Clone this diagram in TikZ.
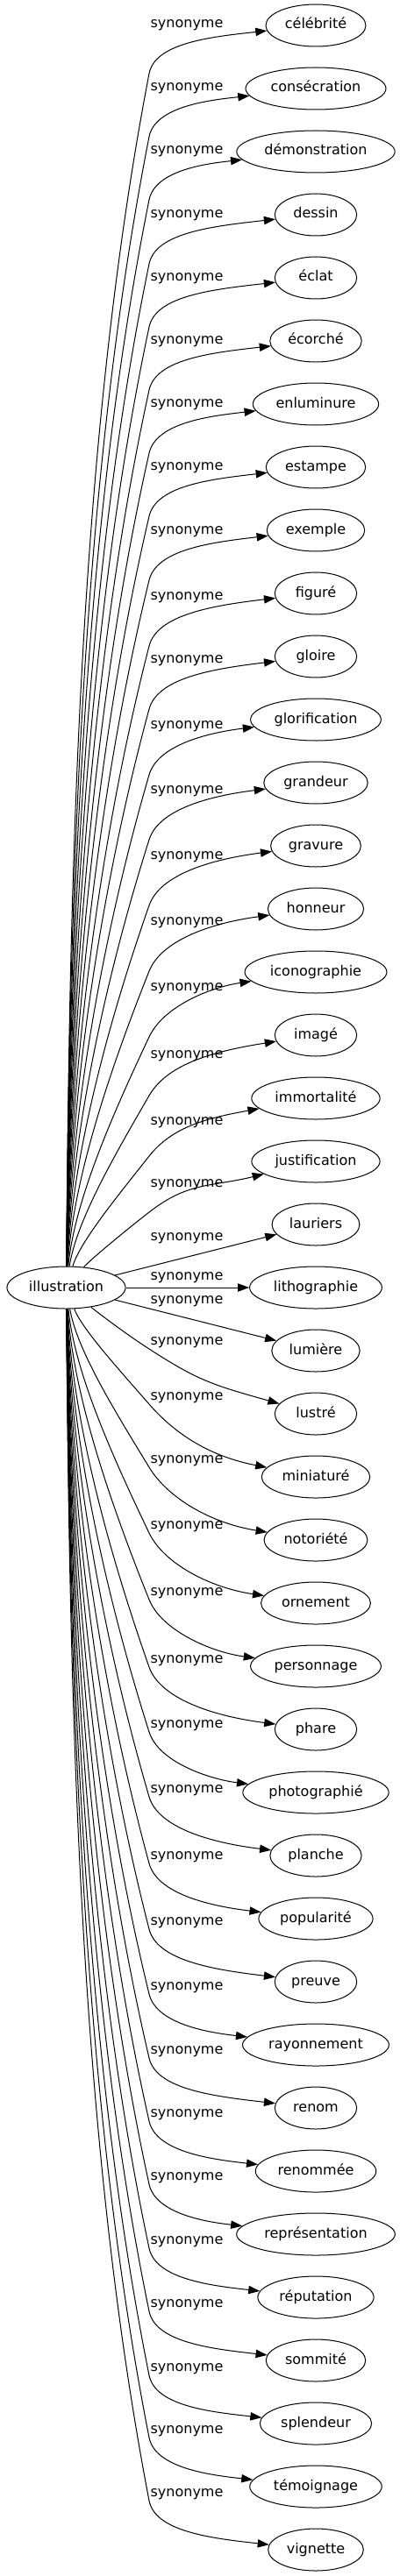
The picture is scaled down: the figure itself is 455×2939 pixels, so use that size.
\documentclass[tikz,border=0pt]{standalone}
\usepackage{fontspec}
\setmainfont{DejaVu Sans}
\usetikzlibrary{arrows.meta, shapes.geometric}

\tikzset{
  word/.style={draw, ellipse, line width=0.75pt, minimum height=36pt, minimum width=70pt,
    inner xsep=3.9pt, inner ysep=0pt, text height=9pt, text depth=3pt, font=\fontsize{12}{14}\selectfont},
  rel/.style={inner sep=0pt, font=\fontsize{12}{14}\selectfont},
  link/.style={line width=0.75pt, -{Triangle[length=9.75pt,width=7pt]}}
}

\begin{document}
\begin{tikzpicture}[x=0.75pt, y=-0.75pt]
  \useasboundingbox (0,0) rectangle (455,2939);
  \node[word] (illustration) at (75.5,1469) {illustration};
  % synonyms: key / word / label y / corner y (0 = straight)
  \foreach \key/\word/\ly/\ky [count=\i from 0] in {
    celebrite/célébrité/29/84, consecration/consécration/101/156,
    demonstration/démonstration/173/228, dessin/dessin/246/301,
    eclat/éclat/318/373, ecorche/écorché/390/445,
    enluminure/enluminure/462/517, estampe/estampe/534/589,
    exemple/exemple/607/662, figure/figuré/682/737,
    gloire/gloire/754/809, glorification/glorification/829/884,
    grandeur/grandeur/903/958, gravure/gravure/978/1033,
    honneur/honneur/1053/1108, iconographie/iconographie/1128/1183,
    image/imagé/1205/1250, immortalite/immortalité/1281/1319,
    justification/justification/1352/1383, lauriers/lauriers/1413/0,
    lithographie/lithographie/1458/0, lumiere/lumière/1485/0,
    lustre/lustré/1532/1539, miniature/miniaturé/1595/1602,
    notoriete/notoriété/1667/1674, ornement/ornement/1742/1749,
    personnage/personnage/1818/1825, phare/phare/1895/1902,
    photographie/photographié/1969/1976, planche/planche/2043/2050,
    popularite/popularité/2119/2126, preuve/preuve/2194/2201,
    rayonnement/rayonnement/2268/2275, renom/renom/2341/2348,
    renommee/renommée/2413/2420, representation/représentation/2485/2492,
    reputation/réputation/2558/2565, sommite/sommité/2630/2637,
    splendeur/splendeur/2703/2710, temoignage/témoignage/2774/2781,
    vignette/vignette/2846/2853}{
    \pgfmathsetmacro\ny{29+72*\i}
    \node[word] (\key) at (360,\ny) {\word};
    \node[rel] (l-\key) at (213,\ly) {synonyme};
    \ifnum\ky=0
      \draw[link] (illustration) -- (\key);
    \else
      \pgfmathsetmacro\side{\ky<1469 ? -1 : 1}
      \pgfmathsetmacro\dist{abs(\ky-1469)}
      \pgfmathsetmacro\lean{0.12+100/\dist}
      \pgfmathsetmacro\reach{0.3*\dist}
      \draw[link] (illustration)
        .. controls ({78+2000/\dist},{1469+\side*0.35*\dist}) and ({170-\lean*\reach},{\ky-\side*\reach}) .. (170,\ky)
        .. controls ({170+\lean*35},{\ky+\side*35}) and (240,{\ny-\side*(12+1500/\dist)}) .. (\key);
    \fi
  }
\end{tikzpicture}
\end{document}
